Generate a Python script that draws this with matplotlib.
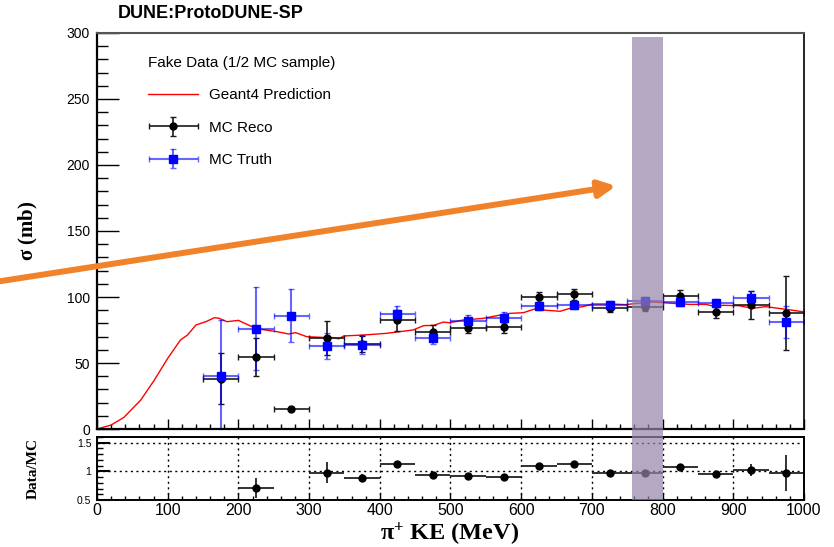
import numpy as np
import matplotlib
matplotlib.use("Agg")
import matplotlib.pyplot as plt
from matplotlib.patches import Rectangle, FancyArrowPatch
from matplotlib.transforms import blended_transform_factory
from matplotlib.legend_handler import HandlerErrorbar

plt.rcParams['font.family'] = ['Liberation Sans', 'DejaVu Sans']
plt.rcParams['mathtext.fontset'] = 'custom'
plt.rcParams['mathtext.bf'] = 'Liberation Serif:bold'
plt.rcParams['mathtext.rm'] = 'Liberation Serif:bold'

# bins (MeV)
ke = np.arange(175, 1000, 50)
half_bin = 25

# MC Reco (fake data)
reco = [38.1, 54.8, 15.4, 69.2, 64.5, 82.3, 73.5, 76.7, 77.0, 100.0, 102.0, 91.4, 92.7, 101.0, 88.4, 94.2, 87.9]
reco_err = [19.5, 14.4, 1.0, 13.0, 6.0, 8.0, 5.0, 4.0, 4.0, 4.0, 4.0, 3.0, 3.0, 4.0, 4.0, 10.6, 28.0]

# MC Truth
truth = [40.4, 76.0, 85.8, 63.1, 63.9, 86.9, 69.2, 82.0, 84.3, 93.4, 94.2, 94.2, 97.2, 96.2, 95.5, 99.5, 81.0]
truth_err = [42.0, 31.5, 20.0, 10.0, 7.0, 6.0, 5.0, 4.0, 4.0, 3.0, 3.0, 3.0, 3.0, 3.0, 3.0, 5.0, 12.0]

# Geant4 prediction
g4_ke = [0, 20, 38, 62, 81, 100, 118, 128, 140, 154, 166, 172, 184, 200, 212, 226, 255, 271, 281, 297,
         320, 330, 342, 349, 377, 410, 447, 462, 476, 490, 499, 518, 546, 565, 584, 603, 619, 636, 655,
         669, 687, 701, 725, 748, 763, 777, 786, 814, 838, 861, 875, 885, 908, 927, 946, 974, 998]
g4_xs = [0, 3, 8.8, 22, 37, 53.5, 67.4, 71.2, 78.8, 81.3, 84.3, 84, 81.3, 82.3, 79.3, 76, 73.7, 72, 73, 69.9,
         69.4, 69.6, 68.3, 70.5, 71.2, 72.5, 75, 78.3, 78.5, 81, 80.5, 82.6, 83.8, 85.8, 87.6, 88.1, 90.9, 89.9, 89.2,
         91.4, 92.7, 94.7, 94.7, 94.2, 95.2, 95.5, 96.2, 95.2, 94.4, 94.4, 92.7, 93.7, 93.4, 91.4, 92.7, 90.7, 88.9]

# Data/MC ratio
ratio_ke = [225, 325, 375, 425, 475, 525, 575, 625, 675, 725, 775, 825, 875, 925, 975]
ratio = [0.71, 0.98, 0.88, 1.12, 0.93, 0.92, 0.90, 1.09, 1.12, 0.97, 0.97, 1.07, 0.95, 1.02, 0.97]
ratio_err = [0.18, 0.18, 0.07, 0.06, 0.05, 0.04, 0.04, 0.04, 0.04, 0.03, 0.03, 0.03, 0.04, 0.10, 0.31]

# highlighted region
band_lo, band_hi = 757, 800

fig = plt.figure(figsize=(8.34, 5.47), dpi=100)
ax = fig.add_axes([0.1163, 0.2157, 0.8477, 0.724])
rax = fig.add_axes([0.1163, 0.0859, 0.8477, 0.1152])

g4, = ax.plot(g4_ke, g4_xs, color='red', lw=1.0, label='Geant4 Prediction')
hreco = ax.errorbar(ke, reco, xerr=half_bin, yerr=reco_err, fmt='o', color='black', ms=5,
                    ecolor='#1a1a1a', elinewidth=1.2, capsize=2, capthick=1, label='MC Reco')
htruth = ax.errorbar(ke, truth, xerr=half_bin, yerr=truth_err, fmt='s', color='blue', ms=6,
                     ecolor=(0, 0, 1, 0.6), elinewidth=1.5, capsize=2, capthick=1, label='MC Truth')

ax.set_xlim(0, 1000)
ax.set_ylim(0, 300)
ax.set_xticks(np.arange(0, 1001, 100))
ax.set_xticks(np.arange(0, 1001, 20), minor=True)
ax.set_yticks(np.arange(0, 301, 50))
ax.set_yticks(np.arange(0, 301, 10), minor=True)
ax.tick_params(axis='x', which='major', direction='in', length=7, width=1, labelbottom=False)
ax.tick_params(axis='x', which='minor', direction='in', length=3.5, width=1)
ax.tick_params(axis='y', which='major', direction='in', length=16, width=1, labelsize=10, pad=5)
ax.tick_params(axis='y', which='minor', direction='in', length=8, width=1)
for s in ['left', 'bottom']:
    ax.spines[s].set_linewidth(1.6)
ax.spines['top'].set_color('#555555')
ax.spines['top'].set_linewidth(1.5)
ax.spines['right'].set_linewidth(1.2)

ax.set_ylabel(r'$\mathbf{\sigma}$ (mb)', fontfamily='Liberation Serif', fontweight='bold', fontsize=15)
ax.yaxis.set_label_coords(-0.081, 0.5)
fig.text(118 / 834, 1 - 14 / 547, 'DUNE:ProtoDUNE-SP', fontsize=13, fontweight='bold', va='center', ha='left')

leg = ax.legend(handles=[g4, hreco, htruth], title='Fake Data (1/2 MC sample)', loc='upper left',
                bbox_to_anchor=(0.072, 0.942), frameon=False, fontsize=11, title_fontsize=11,
                handlelength=3.3, handletextpad=0.7, labelspacing=1.2, borderpad=0, borderaxespad=0,
                handler_map={type(hreco): HandlerErrorbar(xerr_size=1.6, yerr_size=0.62)})
leg._legend_box.align = 'left'

# ratio panel
rax.errorbar(ratio_ke, ratio, xerr=half_bin, yerr=ratio_err, fmt='o', color='black', ms=5,
             ecolor='#222222', elinewidth=1.3)
rax.set_xlim(0, 1000)
rax.set_ylim(0.5, 1.6)
rax.set_xticks(np.arange(0, 1001, 100))
rax.set_xticks(np.arange(0, 1001, 20), minor=True)
rax.set_yticks([0.5, 1, 1.5])
rax.set_yticklabels(['0.5', '1', '1.5'])
rax.set_yticks(np.arange(0.5, 1.61, 0.1), minor=True)
rax.grid(which='major', linestyle=(0, (1.5, 2.5)), color='black', lw=1)
rax.tick_params(axis='x', which='major', direction='in', length=5, width=1, labelsize=11.5, pad=2)
rax.tick_params(axis='x', which='minor', direction='in', length=3, width=1)
rax.tick_params(axis='y', which='major', direction='in', length=9, width=1.5, labelsize=7.5, pad=4)
rax.tick_params(axis='y', which='minor', direction='in', length=4.5, width=1)
for s in rax.spines.values():
    s.set_linewidth(1.4)
rax.set_ylabel('Data/MC', fontfamily='Liberation Serif', fontweight='bold', fontsize=11)
rax.yaxis.set_label_coords(-0.081, 0.5)
rax.set_xlabel(r'$\mathbf{\pi^{+}}$ KE (MeV)', fontfamily='Liberation Serif', fontweight='bold', fontsize=17.5)
rax.xaxis.set_label_coords(0.499, -0.325)

# highlight band across both panels
trans = blended_transform_factory(ax.transData, fig.transFigure)
band = Rectangle((band_lo, 1 - 500 / 547), band_hi - band_lo, (500 - 37) / 547, transform=trans,
                 facecolor='#9583a9', alpha=0.7, edgecolor='none', zorder=10)
fig.add_artist(band)

# orange arrow
arrow = FancyArrowPatch((-5 / 834, 1 - 282 / 547), (616 / 834, 1 - 186 / 547), transform=fig.transFigure,
                        arrowstyle='-|>,head_length=0.5,head_width=0.25', mutation_scale=20,
                        lw=4.3, color='#F0822A', shrinkA=0, shrinkB=0, zorder=11)
fig.add_artist(arrow)

fig.savefig('out.png', dpi=100)
